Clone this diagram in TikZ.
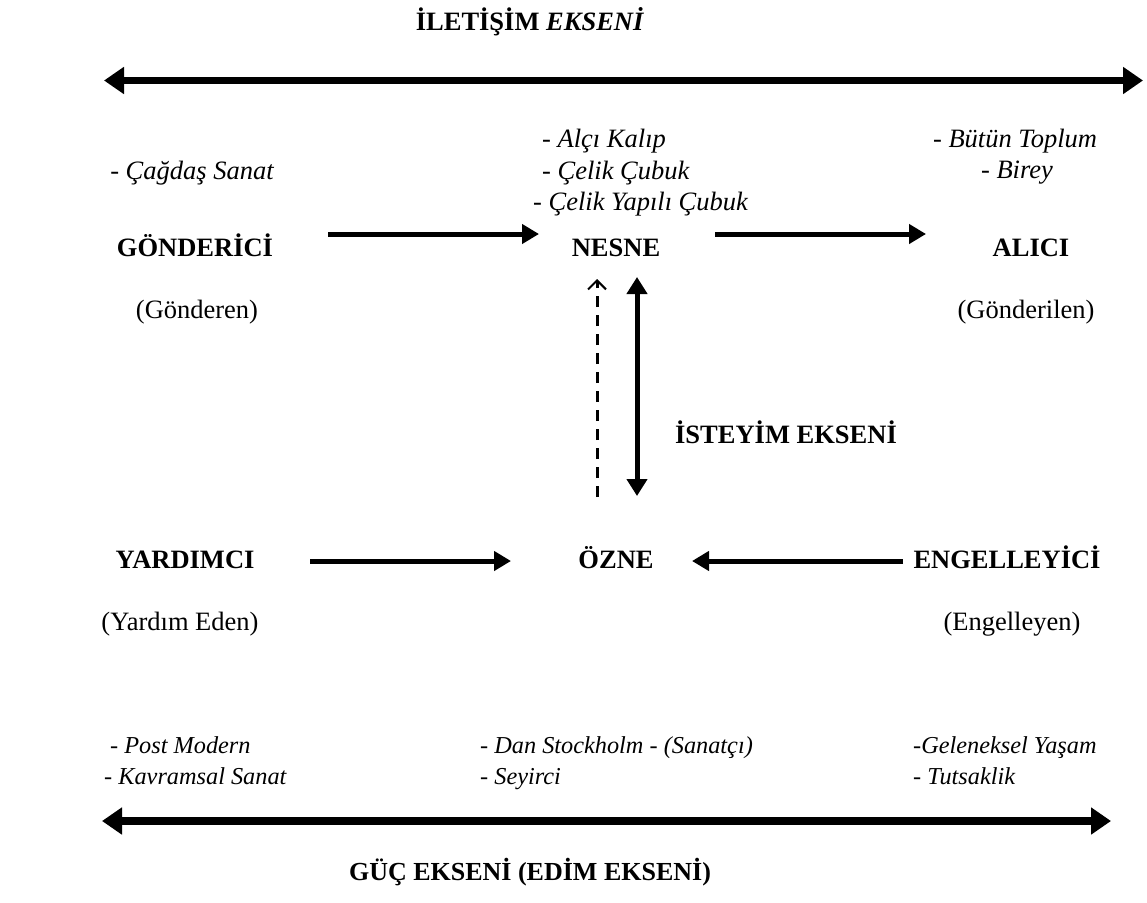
\documentclass[tikz,border=0pt]{standalone}
\usepackage{fontspec}
\setmainfont{Liberation Serif}
\usetikzlibrary{arrows.meta}
\begin{document}
\begin{tikzpicture}[x=1pt,y=-1pt,
  lbl/.style={font=\fontsize{26.5}{30}\selectfont\bfseries, inner sep=0pt, anchor=base},
  sub/.style={font=\fontsize{26.5}{30}\selectfont, inner sep=0pt, anchor=base},
  ex/.style={font=\fontsize{26.5}{30}\selectfont\itshape, inner sep=0pt, anchor=base west},
  exs/.style={font=\fontsize{24.3}{28}\selectfont\itshape, inner sep=0pt, anchor=base west},
  exc/.style={font=\fontsize{26.5}{30}\selectfont\itshape, inner sep=0pt, anchor=base},
  axis/.style={line width=7.5pt, {Triangle[length=20pt,width=26pt]}-{Triangle[length=20pt,width=26pt]}},
  flow/.style={line width=5pt, -{Triangle[length=17pt,width=19pt]}},
  dflow/.style={line width=3pt, dash pattern=on 11pt off 8pt, -{Straight Barb[length=9pt,width=18pt,line width=2pt]}},
  dbl/.style={line width=5pt, {Triangle[length=17pt,width=20pt]}-{Triangle[length=17pt,width=20pt]}}
]
\useasboundingbox (0,0) rectangle (1147,902);
\fill[white] (0,0) rectangle (1147,902);

% top axis
\node[lbl] (ttl) at (530,30) {İLETİŞİM \textit{EKSENİ}};
\coordinate (tl) at (104,80.5);
\coordinate (tr) at (1143,80.5);
\draw[axis] (tl) -- (tr);

% examples top
\node[exc] (cs) at (192,179) {- Çağdaş Sanat};
\node[ex] (ak) at (542,147) {- Alçı Kalıp};
\node[ex] (cc) at (542,179) {- Çelik Çubuk};
\node[ex] (cy) at (533,210) {- Çelik Yapılı Çubuk};
\node[exc] (bt) at (1015,147) {- Bütün Toplum};
\node[exc] (bi) at (1017,178) {- Birey};

% actants row 1
\node[lbl] (gon) at (195,256) {GÖNDERİCİ};
\node[lbl] (nes) at (616,256) {NESNE};
\node[lbl] (ali) at (1031,256) {ALICI};
\node[sub] (gonr) at (197,318) {(Gönderen)};
\node[sub] (alir) at (1026,318) {(Gönderilen)};

\coordinate (a1s) at (328,234);
\coordinate (a1e) at (539,234);
\draw[flow] (a1s) -- (a1e);
\coordinate (a2s) at (715,234);
\coordinate (a2e) at (926,234);
\draw[flow] (a2s) -- (a2e);

% vertical axis
\coordinate (dvb) at (597,497);
\coordinate (dvt) at (597,279);
\draw[dflow] (dvb) -- (dvt);
\coordinate (vt) at (637,277);
\coordinate (vb) at (637,496);
\draw[dbl] (vt) -- (vb);
\node[lbl] (ist) at (786,443) {İSTEYİM EKSENİ};

% actants row 2
\node[lbl] (yar) at (185,568) {YARDIMCI};
\node[lbl] (ozn) at (616,568) {ÖZNE};
\node[lbl] (eng) at (1007,568) {ENGELLEYİCİ};
\node[sub] (yarr) at (180,630) {(Yardım Eden)};
\node[sub] (engr) at (1012,630) {(Engelleyen)};

\coordinate (b1s) at (310,561);
\coordinate (b1e) at (511,561);
\draw[flow] (b1s) -- (b1e);
\coordinate (b2s) at (903,561);
\coordinate (b2e) at (692,561);
\draw[flow] (b2s) -- (b2e);

% examples bottom
\node[exs] (pm) at (110,753) {- Post Modern};
\node[exs] (ks) at (104,784) {- Kavramsal Sanat};
\node[exs] (ds) at (480,753) {- Dan Stockholm - (Sanatçı)};
\node[exs] (se) at (480,784) {- Seyirci};
\node[exs] (gy) at (913,753) {-Geleneksel Yaşam};
\node[exs] (tu) at (913,784) {- Tutsaklik};

% bottom axis
\coordinate (bl) at (102,821);
\coordinate (br) at (1111,821);
\draw[axis] (bl) -- (br);
\node[font=\fontsize{26}{30}\selectfont\bfseries, inner sep=0pt, anchor=base] (gtl) at (530,880) {GÜÇ EKSENİ (EDİM EKSENİ)};
\end{tikzpicture}
\end{document}
